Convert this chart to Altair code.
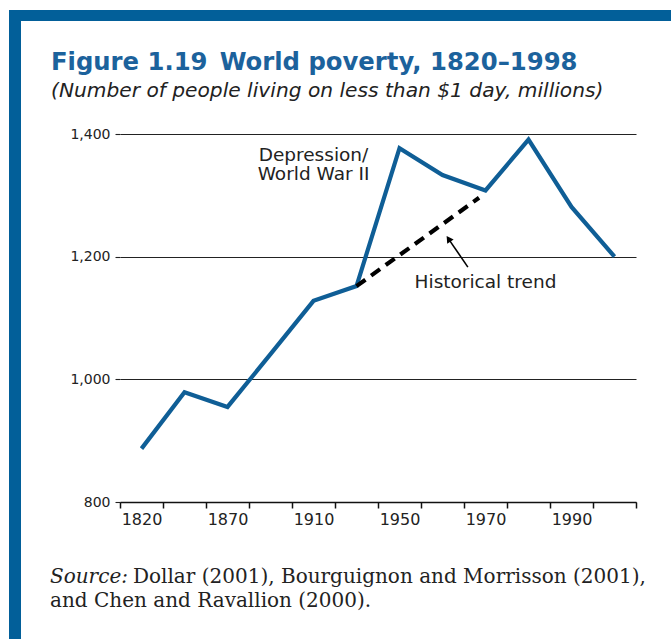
import json
import altair as alt
import pandas as pd

# ---------------- data ----------------
band_years = ["1820", "1850", "1870", "1890", "1910", "1929",
              "1950", "1960", "1970", "1980", "1992", "1998"]
poverty = [887, 979, 955, 1041, 1128, 1152, 1377, 1333, 1308, 1391, 1281, 1200]
tick_labels = ["1820", "", "1870", "", "1910", "", "1950", "", "1970", "", "1990", ""]

trend_pos = [5, 7.85]
trend_val = [1152, 1296]

annot_text = ["Depression/", "World War II", "Historical trend"]
annot_pos = [4.0, 4.0, 8.0]
annot_val = [1366.5, 1335.5, 1158]

arrow_pos = [7.59, 7.14]
arrow_val = [1183, 1229]

y_ticks = [800, 1000, 1200, 1400]

title_text = "Figure 1.19\u2002World poverty, 1820–1998"
subtitle_text = "(Number of people living on less than $1 day, millions)"
source_lead = "Source:"
source_lines = ["Dollar (2001), Bourguignon and Morrisson (2001),",
                "and Chen and Ravallion (2000)."]

# ---------------- layout ----------------
W, H = 516, 368
LEFT, TOP = 120, 134
BAND = W / len(band_years)

SANS = "DejaVu Sans"
SERIF = "DejaVu Serif"
LINE_BLUE = "#0f5e96"
BORDER_BLUE = "#025f99"
TITLE_BLUE = "#1c629c"
INK = "#222222"

df = pd.DataFrame({"pos": list(range(len(band_years))), "year": band_years, "value": poverty})
trend_df = pd.DataFrame({"pos": trend_pos, "value": trend_val})
annot_df = pd.DataFrame({"pos": annot_pos, "value": annot_val, "label": annot_text})
arrow_df = pd.DataFrame({"pos": [arrow_pos[0]], "pos2": [arrow_pos[1]],
                         "value": [arrow_val[0]], "value2": [arrow_val[1]]})
head_df = pd.DataFrame({"pos": [arrow_pos[1]], "value": [arrow_val[1]]})

x_ticks = [i - 0.5 for i in range(len(band_years) + 1)]
label_expr = json.dumps(tick_labels) + "[round(datum.value + 0.5)] || ''"

x_scale = alt.Scale(domain=[-0.5, len(band_years) - 0.5], nice=False, zero=False)
y_scale = alt.Scale(domain=[800, 1400], nice=False, zero=False)

x_axis = alt.Axis(values=x_ticks, labelExpr=label_expr, labelOffset=BAND / 2,
                  labelFlush=False, labelOverlap=False, labelBound=False,
                  grid=False, domain=True, domainColor="#111", domainWidth=1.5,
                  ticks=True, tickSize=6, tickColor="#111", tickWidth=1.5,
                  labelFont=SANS, labelFontSize=16, labelColor=INK,
                  labelPadding=3, title=None)
y_axis = alt.Axis(values=y_ticks, format=",d", grid=True, gridColor="#222",
                  gridWidth=1.1, domain=False, ticks=True, tickSize=5,
                  tickColor="#222", tickWidth=1.1, labelFont=SANS, labelFontSize=14,
                  labelColor=INK, labelPadding=5, title=None)

base = alt.Chart(df)

line = base.mark_line(color=LINE_BLUE, strokeWidth=4.2, strokeJoin="miter",
                      strokeCap="butt").encode(
    x=alt.X("pos:Q", scale=x_scale, axis=x_axis),
    y=alt.Y("value:Q", scale=y_scale, axis=y_axis),
)

trend = alt.Chart(trend_df).mark_line(color="#000", strokeWidth=4.2,
                                      strokeDash=[11, 7]).encode(
    x="pos:Q", y="value:Q")

annots = alt.Chart(annot_df).mark_text(font=SANS, fontSize=18.5, color=INK,
                                       align="center", baseline="middle").encode(
    x="pos:Q", y="value:Q", text="label:N")

arrow = alt.Chart(arrow_df).mark_rule(color="#000", strokeWidth=1.6).encode(
    x="pos:Q", x2="pos2:Q", y="value:Q", y2="value2:Q")

head = alt.Chart(head_df).mark_point(shape="triangle-up", filled=True, color="#000",
                                     size=60, angle=325.5, opacity=1).encode(
    x="pos:Q", y="value:Q")

# title and subtitle
title = alt.Chart(pd.DataFrame({"t": [title_text]})).mark_text(
    font=SANS, fontSize=24.3, fontWeight="bold", color=TITLE_BLUE,
    align="left", baseline="alphabetic").encode(
    x=alt.value(51 - LEFT), y=alt.value(69.5 - TOP), text="t:N")
subtitle = alt.Chart(pd.DataFrame({"t": [subtitle_text]})).mark_text(
    font=SANS, fontSize=20.2, fontStyle="italic", color=INK,
    align="left", baseline="alphabetic").encode(
    x=alt.value(51 - LEFT), y=alt.value(97 - TOP), text="t:N")

# source note (two styles on line 1)
src1 = alt.Chart(pd.DataFrame({"t": [source_lead]})).mark_text(
    font=SERIF, fontStyle="italic", fontSize=20, color=INK,
    align="left", baseline="alphabetic").encode(
    x=alt.value(50 - LEFT), y=alt.value(583 - TOP), text="t:N")
src2 = alt.Chart(pd.DataFrame({"t": [source_lines[0]]})).mark_text(
    font=SERIF, fontSize=20, color=INK, align="left", baseline="alphabetic").encode(
    x=alt.value(133 - LEFT), y=alt.value(583 - TOP), text="t:N")
src3 = alt.Chart(pd.DataFrame({"t": [source_lines[1]]})).mark_text(
    font=SERIF, fontSize=20, color=INK, align="left", baseline="alphabetic").encode(
    x=alt.value(50 - LEFT), y=alt.value(607 - TOP), text="t:N")

# blue frame (top and left bars)
frame_df = pd.DataFrame({"k": ["top", "left"]})
top_bar = alt.Chart(frame_df.iloc[[0]]).mark_rect(color=BORDER_BLUE).encode(
    x=alt.value(9 - LEFT), x2=alt.value(671 - LEFT),
    y=alt.value(10 - TOP), y2=alt.value(21 - TOP))
left_bar = alt.Chart(frame_df.iloc[[1]]).mark_rect(color=BORDER_BLUE).encode(
    x=alt.value(9 - LEFT), x2=alt.value(21 - LEFT),
    y=alt.value(10 - TOP), y2=alt.value(639 - TOP))

chart = alt.layer(line, trend, arrow, head, annots, title, subtitle,
                  src1, src2, src3, top_bar, left_bar).properties(
    width=W, height=H,
    autosize=alt.AutoSizeParams(type="none"),
    padding={"left": LEFT, "top": TOP, "right": 671 - LEFT - W, "bottom": 639 - TOP - H},
    background="white",
).configure_view(stroke=None)

chart.save("out.html", embed_options={"renderer": "svg", "actions": False})
